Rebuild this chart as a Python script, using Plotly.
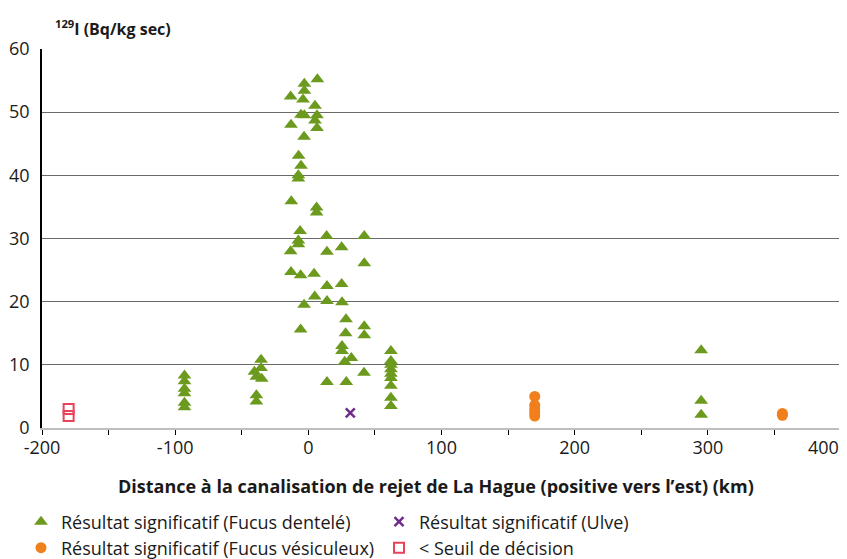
import plotly.graph_objects as go

# Fucus dentelé (significant results)
dentele_x = [-93, -93, -93, -93, -93, -93,
             -35.5, -35.5, -40.5, -39, -35, -39, -39,
             6.8, -3, -3, -13.3, -4, 5, -5.5, -3, 6.5, 5, -13, 6.5, -3.2,
             -7.3, -5.5, -7.5, -7.5, -12.8, 6.2, 6.2, -6.2, -7.5, -7.5, -13.3,
             13.7, 42, 25, 14, 42, -13, -5.8, 4.3, 14, 25, 4.8, 14, 25.3, -3.2,
             28.3, 42, 42, 28, -5.8, 25.3, 25.3, 32.3, 27.3, 41.8, 14, 28.5,
             62, 62, 62, 62, 62, 62, 62, 62, 62,
             295, 295, 295]
dentele_y = [8.3, 7.4, 6.2, 5.5, 4.0, 3.3,
             10.8, 9.5, 8.9, 8.1, 7.8, 5.2, 4.2,
             55.2, 54.5, 53.4, 52.5, 52.0, 51.0, 49.6, 49.5, 49.5, 48.7, 48.0, 47.5, 46.1,
             43.1, 41.5, 40.0, 39.5, 35.9, 34.9, 34.1, 31.2, 29.7, 29.1, 28.0,
             30.4, 30.4, 28.6, 27.9, 26.1, 24.7, 24.2, 24.4, 22.5, 22.8, 20.8, 20.1, 19.9, 19.5,
             17.2, 16.1, 14.7, 15.0, 15.6, 13.0, 12.2, 11.1, 10.5, 8.75, 7.3, 7.3,
             12.2, 10.6, 10.0, 9.3, 8.6, 7.9, 6.7, 4.8, 3.5,
             12.3, 4.3, 2.1]

# Ulve
ulve_x = [31.5]
ulve_y = [2.4]

# Fucus vésiculeux
vesic_x = [170, 170, 170, 170, 170, 356, 356]
vesic_y = [5.0, 3.6, 3.0, 2.5, 1.9, 2.3, 2.0]

# < Seuil de décision
seuil_x = [-180, -180]
seuil_y = [3.0, 1.9]

x_tickvals = [-200, -150, -100, -50, 0, 50, 100, 150, 200, 250, 300, 350, 400]
x_ticktext = ["-200", "", "-100", "", "0", "", "100", "", "200", "", "300", "", ""]
x_last_label = "400"  # drawn slightly inset so it is not cut by the page edge
y_tickvals = [0, 10, 20, 30, 40, 50, 60]

FONT = "Open Sans"
GREEN = "#6b9a1e"
PURPLE = "#6e2c8c"
ORANGE = "#f07f1c"
RED = "#e8435a"

W, H = 847, 559
OFF = 8  # page body margin
# target plot area in screenshot pixels
PL, PR, PT, PB = 42, 841, 49, 428
PW, PH = PR - PL, PB - PT

fig = go.Figure()
fig.add_trace(go.Scatter(x=dentele_x, y=dentele_y, mode="markers",
                         name="Résultat significatif (Fucus dentelé)",
                         marker=dict(symbol="triangle-up", size=12, color=GREEN),
                         legend="legend"))
fig.add_trace(go.Scatter(x=ulve_x, y=ulve_y, mode="markers",
                         name="Résultat significatif (Ulve)",
                         marker=dict(symbol="x-thin", size=9, color=PURPLE,
                                     line=dict(width=2.5, color=PURPLE)),
                         legend="legend"))
fig.add_trace(go.Scatter(x=vesic_x, y=vesic_y, mode="markers",
                         name="Résultat significatif (Fucus vésiculeux)",
                         marker=dict(symbol="circle", size=11, color=ORANGE),
                         legend="legend2"))
fig.add_trace(go.Scatter(x=seuil_x, y=seuil_y, mode="markers",
                         name="< Seuil de décision",
                         marker=dict(symbol="square-open", size=10, color=RED,
                                     line=dict(width=2, color=RED)),
                         legend="legend2"))

fig.update_layout(
    width=W, height=H,
    paper_bgcolor="white", plot_bgcolor="white",
    margin=dict(l=PL - OFF, r=W - (PR - OFF), t=PT - OFF, b=H - (PB - OFF)),
    font=dict(family=FONT, size=18, color="#1a1a1a"),
    xaxis=dict(range=[-200, 400], tickvals=x_tickvals, ticktext=x_ticktext,
               ticks="outside", ticklen=5, tickcolor="black", tickwidth=1,
               showgrid=False, zeroline=False, automargin=False,
               showline=True, linecolor="#bdbdbd", linewidth=2,
               ticklabelstandoff=-3,
               tickfont=dict(size=18)),
    yaxis=dict(range=[0, 60], tickvals=y_tickvals, automargin=False,
               showgrid=True, gridcolor="#6a6a6a", gridwidth=1,
               zeroline=False, showline=True, linecolor="black", linewidth=1.5,
               ticks="", ticklabelstandoff=7, tickfont=dict(size=18)),
    legend=dict(orientation="h", xref="container", yref="container",
                x=13 / W, y=1 - (522 - OFF) / H, xanchor="left", yanchor="middle",
                entrywidth=313, font=dict(size=18), bgcolor="rgba(0,0,0,0)"),
    legend2=dict(orientation="h", xref="container", yref="container",
                 x=13 / W, y=1 - (548 - OFF) / H, xanchor="left", yanchor="middle",
                 entrywidth=313, font=dict(size=18), bgcolor="rgba(0,0,0,0)"),
    annotations=[
        dict(text="<b><sup>129</sup>I (Bq/kg sec)</b>", xref="paper", yref="paper",
             x=(53 - PL) / PW, y=(PB - 28) / PH, xanchor="left", yanchor="middle",
             showarrow=False, font=dict(size=16)),
        dict(text="<b>Distance à la canalisation de rejet de La Hague (positive vers l’est) (km)</b>",
             xref="paper", yref="paper", x=(436 - PL) / PW, y=(PB - 486) / PH,
             xanchor="center", yanchor="middle", showarrow=False, font=dict(size=18)),
        dict(text=x_last_label, xref="x", yref="paper", x=x_tickvals[-1], y=0,
             xanchor="right", yanchor="top", xshift=0, yshift=-5,
             showarrow=False, font=dict(size=18)),
    ],
)

fig.write_html("out.html")
